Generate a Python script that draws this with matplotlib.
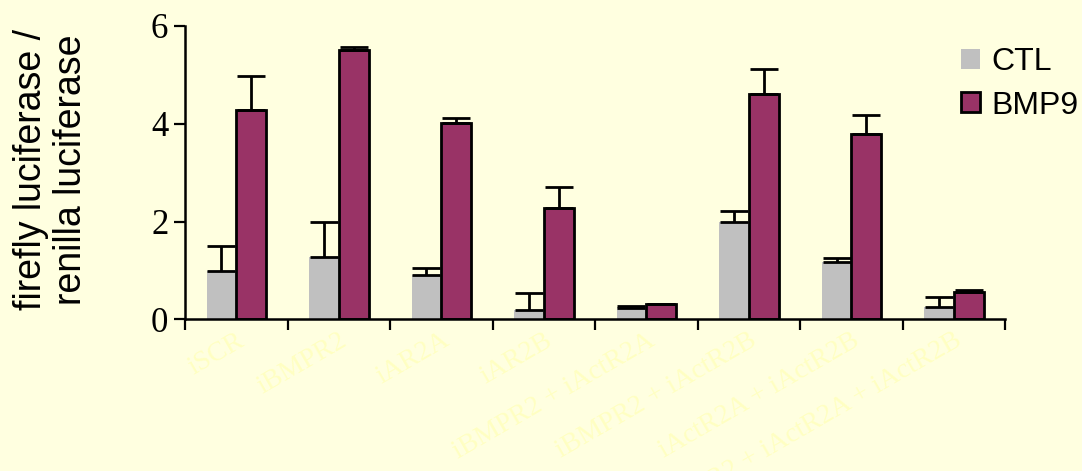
import numpy as np
import matplotlib.pyplot as plt

# data
groups = ["iSCR", "iBMPR2", "iAR2A", "iAR2B",
          "iBMPR2 + iActR2A", "iBMPR2 + iActR2B",
          "iActR2A + iActR2B", "iBMPR2 + iActR2A + iActR2B"]
ctl = [1.0, 1.28, 0.9, 0.2, 0.23, 1.99, 1.18, 0.26]
ctl_err = [0.5, 0.71, 0.15, 0.35, 0.04, 0.23, 0.07, 0.2]
bmp9 = [4.28, 5.51, 4.02, 2.28, 0.31, 4.6, 3.79, 0.56]
bmp9_err = [0.69, 0.07, 0.1, 0.42, 0.01, 0.52, 0.39, 0.05]

bg = "#FFFFE0"
gray = "#C0C0C0"
plum = "#993366"

fig = plt.figure(figsize=(10.82, 4.71), dpi=100, facecolor=bg)
ax = fig.add_axes([0.171, 0.3217, 0.758, 0.6231], facecolor=bg)

x = np.arange(1, len(groups) + 1)
w = 0.29
ax.bar(x - w / 2, ctl, w, color=gray, linewidth=0, label="CTL",
       yerr=[np.zeros(len(ctl)), ctl_err],
       error_kw=dict(ecolor="black", elinewidth=2, capsize=10, capthick=2))
ax.bar(x + w / 2, bmp9, w, color=plum, edgecolor="black", linewidth=2, label="BMP9",
       yerr=[np.zeros(len(bmp9)), bmp9_err],
       error_kw=dict(ecolor="black", elinewidth=2, capsize=10, capthick=2))

ax.set_xlim(0.5, len(groups) + 0.5)
ax.set_ylim(0, 6)
ax.set_yticks([0, 2, 4, 6])
ax.set_yticklabels(["0", "2", "4", "6"], fontfamily="Liberation Serif", fontsize=25)
ax.tick_params(axis="y", direction="out", length=8, width=1.6, pad=4)

# tick marks at category boundaries, labels at centres
ax.set_xticks(np.arange(0.5, len(groups) + 1, 1.0), minor=True)
ax.set_xticks(x)
ax.set_xticklabels(groups, rotation=30, ha="right", rotation_mode="anchor",
                   fontfamily="Liberation Serif", fontsize=20, color="#FFFFC2")
ax.tick_params(axis="x", which="major", length=0, pad=6)
ax.tick_params(axis="x", which="minor", direction="out", length=8, width=1.6)

for s in ["top", "right"]:
    ax.spines[s].set_visible(False)
for s in ["left", "bottom"]:
    ax.spines[s].set_linewidth(1.8)

fig.text(0.047, 0.64, "firefly luciferase /\nrenilla luciferase", rotation=90,
         ha="center", va="center", multialignment="center",
         fontfamily="Liberation Sans", fontsize=27, linespacing=1.15)

ax.legend(loc="upper left", bbox_to_anchor=(0.888, 0.90), bbox_transform=fig.transFigure,
          frameon=False, prop={"family": "Liberation Sans", "size": 23},
          handlelength=0.6, handleheight=0.6, handletextpad=0.35,
          labelspacing=0.42, borderaxespad=0, borderpad=0)

fig.savefig("out.png", dpi=100, facecolor=bg)
